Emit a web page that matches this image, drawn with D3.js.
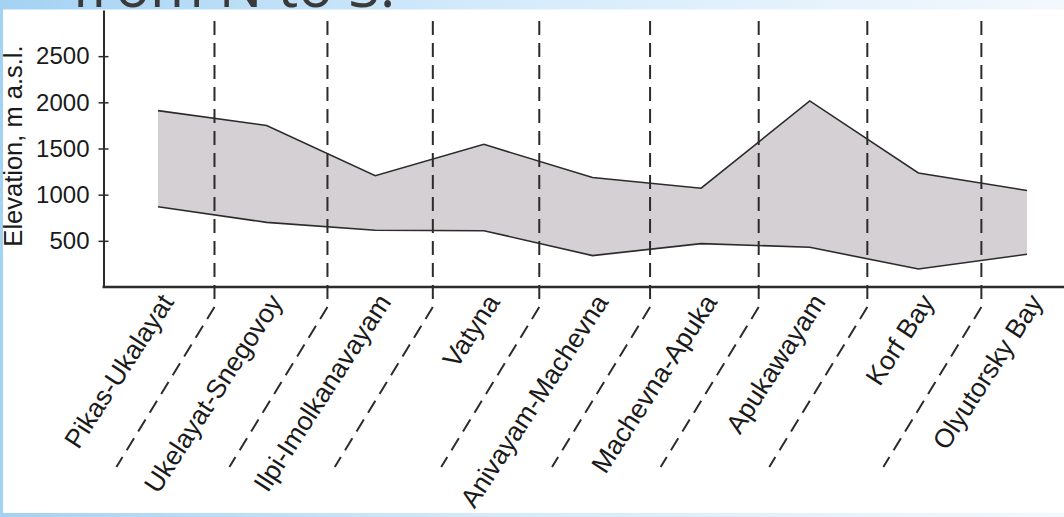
<!DOCTYPE html>
<html>
<head>
<meta charset="utf-8">
<script src="https://cdn.jsdelivr.net/npm/d3@7"></script>
<style>
  html, body { margin: 0; padding: 0; background: #fff; }
  svg { display: block; }
  text { font-family: "Liberation Sans", Arial, Helvetica, sans-serif; fill: #1a1a1a; }
</style>
</head>
<body>
<svg id="chart" width="1064" height="517"></svg>
<script>
// Segments of the ridge profile, listed from north to south
const categories = [
  "Pikas-Ukalayat", "Ukelayat-Snegovoy", "Ilpi-Imolkanavayam", "Vatyna",
  "Anivayam-Machevna", "Machevna-Apuka", "Apukawayam", "Korf Bay", "Olyutorsky Bay"
];
// Highest and lowest elevation of each segment, m a.s.l.
const maxElevation = [1910, 1750, 1205, 1545, 1185, 1070, 2015, 1235, 1045];
const minElevation = [870, 700, 615, 610, 340, 470, 430, 195, 355];
// Tick values on the elevation axis
const yTicks = [500, 1000, 1500, 2000, 2500];
// Segment boundaries, expressed in category-index units
const boundaries = [0.52, 1.56, 2.53, 3.51, 4.53, 5.53, 6.53, 7.58];

const svg = d3.select("#chart");
const W = 1064, H = 517;

// slide background
const defs = svg.append("defs");
const grad = defs.append("linearGradient").attr("id", "bg").attr("x1", "0").attr("x2", "1").attr("y1", "0").attr("y2", "0");
grad.append("stop").attr("offset", "0").attr("stop-color", "#a4d2f3");
grad.append("stop").attr("offset", "0.45").attr("stop-color", "#d3eafb");
grad.append("stop").attr("offset", "1").attr("stop-color", "#f3f8fd");
svg.append("rect").attr("width", W).attr("height", H).attr("fill", "url(#bg)");

svg.append("text")
  .attr("x", 72).attr("y", 7)
  .style("font-family", "'Open Sans', sans-serif")
  .style("font-size", "58px")
  .style("fill", "#3a3a3a")
  .text("from N to S:");

// white figure panel
svg.append("rect").attr("x", 3).attr("y", 9.5).attr("width", W - 3).attr("height", 503.5).attr("fill", "#ffffff");

const axisX = 103.5, axisY = 287;
const y = d3.scaleLinear().domain([0, 3000]).range([axisY, 10]);
const x = d3.scalePoint().domain(categories).range([158, 1027]);
const xi = d3.scaleLinear().domain([0, categories.length - 1]).range([158, 1027]);

// elevation band
const area = d3.area()
  .x((d, i) => x(categories[i]))
  .y0((d, i) => y(minElevation[i]))
  .y1((d, i) => y(maxElevation[i]));
svg.append("path").datum(categories).attr("d", area).attr("fill", "#d5d0d3");

// segment boundaries: vertical above the axis, slanted among the labels
const slantTop = 307, slantBottom = 467, slantAngle = 58.5 * Math.PI / 180;
svg.append("g").selectAll("path").data(boundaries).join("path")
  .attr("d", b => {
    const sx = xi(b);
    const dx = (slantBottom - slantTop) / Math.tan(slantAngle);
    return `M${sx},21V${slantTop}L${sx - dx},${slantBottom}`;
  })
  .attr("fill", "none").attr("stroke", "#2b2b2b").attr("stroke-width", 2)
  .attr("stroke-dasharray", "14,8");

const line = d3.line().x((d, i) => x(categories[i])).y(d => y(d));
svg.append("path").datum(maxElevation).attr("d", line).attr("fill", "none").attr("stroke", "#2b2b2b").attr("stroke-width", 1.6);
svg.append("path").datum(minElevation).attr("d", line).attr("fill", "none").attr("stroke", "#2b2b2b").attr("stroke-width", 1.6);

// elevation axis
const yAxis = svg.append("g").attr("transform", `translate(${axisX},0)`)
  .call(d3.axisLeft(y).tickValues(yTicks).tickFormat(d3.format("d"))
    .tickSizeInner(5).tickSizeOuter(0).tickPadding(9));
yAxis.select(".domain").attr("stroke", "#2b2b2b").attr("stroke-width", 2);
yAxis.selectAll(".tick line").attr("x1", 5).attr("x2", -5).attr("stroke", "#2b2b2b").attr("stroke-width", 1.5);
yAxis.selectAll(".tick text").style("font-size", "24px").style("fill", "#1a1a1a")
  .style("font-family", "'Liberation Sans', Arial, sans-serif");

// baseline
svg.append("line").attr("x1", axisX - 1).attr("x2", W).attr("y1", axisY).attr("y2", axisY)
  .attr("stroke", "#2b2b2b").attr("stroke-width", 2.4);

// category labels
svg.append("g").selectAll("text").data(categories).join("text")
  .attr("transform", d => `translate(${x(d) + 9},${297}) rotate(-57)`)
  .attr("text-anchor", "end")
  .attr("dy", "0.35em")
  .style("font-size", "26.5px")
  .text(d => d);

// axis title
svg.append("text")
  .attr("transform", "translate(22,146) rotate(-90)")
  .attr("text-anchor", "middle")
  .style("font-size", "25.5px")
  .text("Elevation, m a.s.l.");
</script>
</body>
</html>
